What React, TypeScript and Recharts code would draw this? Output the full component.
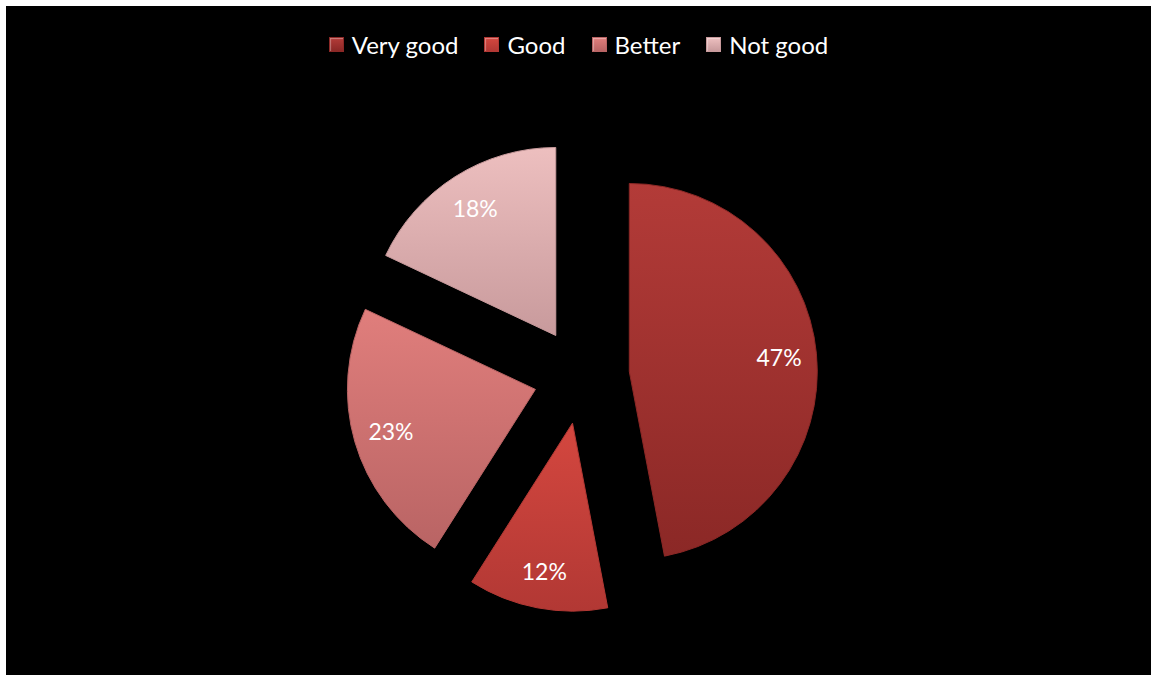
import React from 'react';
import { PieChart, Pie, Cell, Legend } from 'recharts';

const categories = ['Very good', 'Good', 'Better', 'Not good'];
const shares = [47, 12, 23, 18];
const topColors = ['#b33b38', '#d4473f', '#e07e7c', '#edbfbf'];
const bottomColors = ['#8b2826', '#b23834', '#b96464', '#c89a9c'];

const data = categories.map((name, i) => ({ name, value: shares[i] }));

const WIDTH = 1145;
const HEIGHT = 669;
// centre is measured below the legend band, which recharts adds to the top offset
const CENTER_X = 575.5;
const CENTER_Y = 341;
const RADIUS = 188;
const EXPLODE = 48;
const RAD = Math.PI / 180;

const total = shares.reduce((a, b) => a + b, 0);
// clockwise angle from 12 o'clock to the middle of each slice
const midAngles = shares.map((v, i) => {
  const before = shares.slice(0, i).reduce((a, b) => a + b, 0);
  return ((before + v / 2) / total) * 360;
});

function renderLegend() {
  return (
    <div style={{ display: 'flex', justifyContent: 'center', alignItems: 'center', fontFamily: 'Lato, sans-serif', fontSize: 24, color: '#fff' }}>
      {categories.map((name, i) => (
        <div key={name} style={{ display: 'flex', alignItems: 'center', marginRight: i < categories.length - 1 ? 26 : 0 }}>
          <div
            style={{
              width: 13,
              height: 13,
              marginRight: 8,
              background: `linear-gradient(${topColors[i]}, ${bottomColors[i]})`,
              border: `1px solid ${bottomColors[i]}`,
              boxShadow: 'inset 1px 1px 1px rgba(255,255,255,0.35)',
            }}
          />
          <span>{name}</span>
        </div>
      ))}
    </div>
  );
}

function makeLabel(slice: number) {
  return (props: any) => {
    const { cx, cy, midAngle, outerRadius, index, value } = props;
    if (index !== slice) return null;
    const r = outerRadius * 0.8;
    const x = cx + r * Math.cos(midAngle * RAD);
    const y = cy - r * Math.sin(midAngle * RAD);
    return (
      <text x={x} y={y} fill="#fff" textAnchor="middle" dominantBaseline="central" fontFamily="Lato, sans-serif" fontSize={23}>
        {`${value}%`}
      </text>
    );
  };
}

export default function App() {
  return (
    <div style={{ position: 'absolute', left: 6, top: 6, width: WIDTH, height: HEIGHT, background: '#000' }}>
      <PieChart width={WIDTH} height={HEIGHT} margin={{ top: 0, right: 0, bottom: 0, left: 0 }}>
        <defs>
          {categories.map((name, i) => (
            <linearGradient key={name} id={`slice-${i}`} x1="0" y1="0" x2="0" y2="1">
              <stop offset="0%" stopColor={topColors[i]} />
              <stop offset="100%" stopColor={bottomColors[i]} />
            </linearGradient>
          ))}
        </defs>
        <Legend verticalAlign="top" align="center" content={renderLegend} wrapperStyle={{ top: 24, left: 0, width: WIDTH }} />
        {categories.map((name, slice) => (
          <Pie
            key={name}
            data={data}
            dataKey="value"
            nameKey="name"
            cx={CENTER_X + EXPLODE * Math.sin(midAngles[slice] * RAD)}
            cy={CENTER_Y - EXPLODE * Math.cos(midAngles[slice] * RAD)}
            outerRadius={RADIUS}
            startAngle={90}
            endAngle={-270}
            label={makeLabel(slice)}
            labelLine={false}
            legendType="none"
            isAnimationActive={false}
          >
            {data.map((d, i) => (
              <Cell
                key={d.name}
                fill={i === slice ? `url(#slice-${i})` : 'none'}
                stroke={i === slice ? bottomColors[i] : 'none'}
                strokeWidth={1}
              />
            ))}
          </Pie>
        ))}
      </PieChart>
    </div>
  );
}
